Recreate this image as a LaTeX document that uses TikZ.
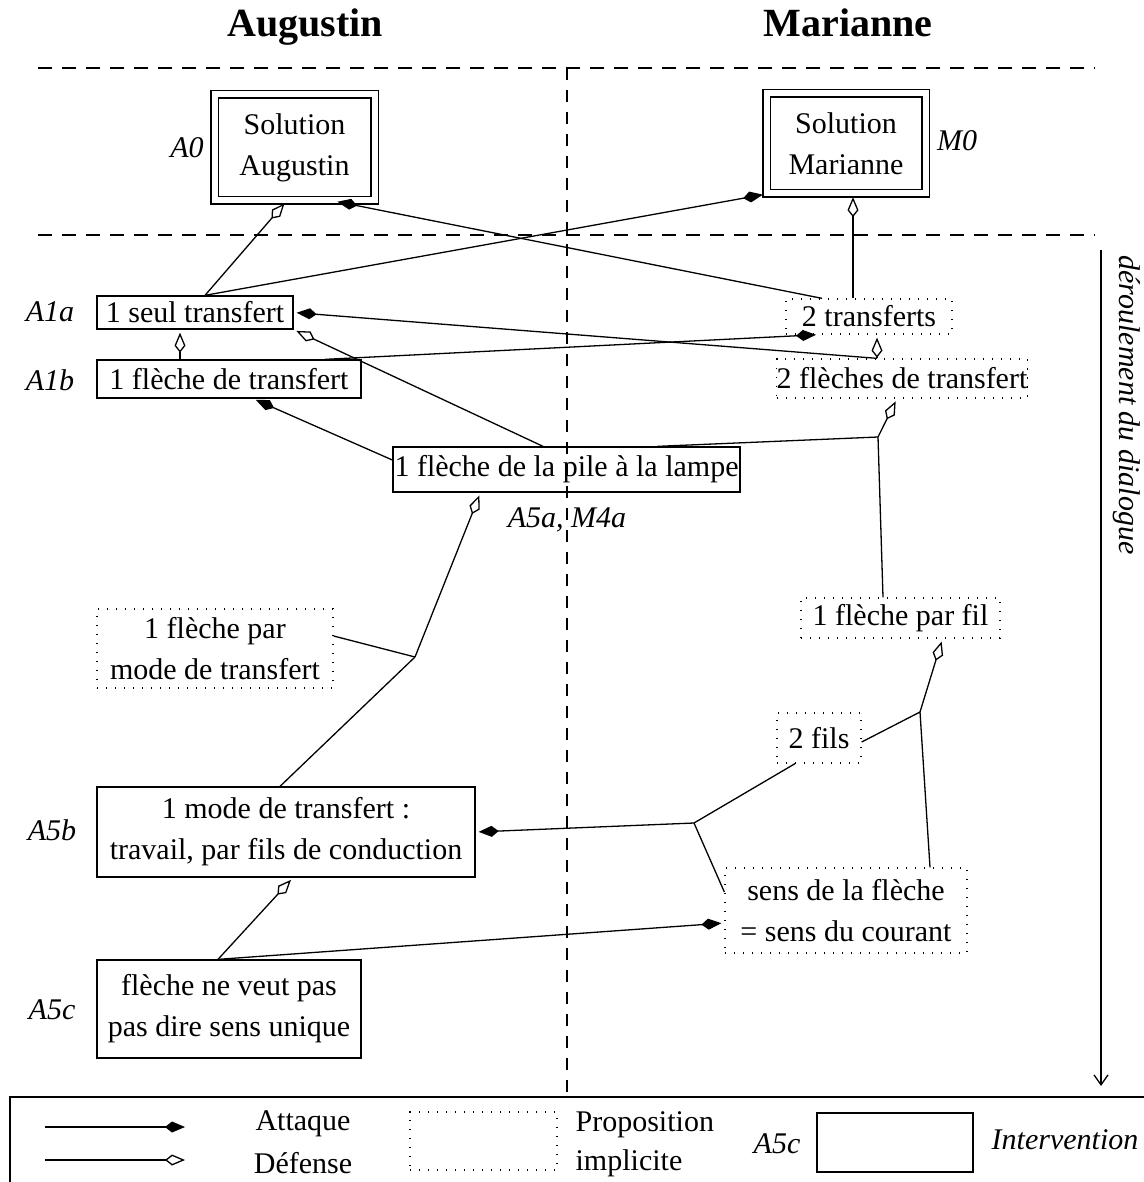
\documentclass[tikz,border=0pt]{standalone}
\usepackage{fontspec}
\setmainfont{Liberation Serif}
\usetikzlibrary{arrows.meta}

\tikzset{
    interv/.style={draw, rectangle, inner sep=0pt, align=center},
    implic/.style={draw, rectangle, inner sep=0pt, align=center, dash pattern=on 0.7pt off 3.8pt},
    solbox/.style={draw, double, double distance=3pt, rectangle, inner sep=0pt, align=center},
    lbl/.style={font=\fontsize{15}{18}\selectfont\itshape},
    head/.style={font=\fontsize{20}{24}\selectfont\bfseries, anchor=base},
    attaque/.style={-{Kite[length=10pt,width=5.5pt,inset=3.5pt]}, shorten >=1.5pt},
    defense/.style={-{Kite[open,length=10pt,width=5.5pt,inset=3.5pt]}, shorten >=1.5pt},
    sep/.style={dash pattern=on 7pt off 5pt}
}

\begin{document}
\begin{tikzpicture}[x=0.5pt, y=-0.5pt, line width=0.65pt, font=\fontsize{15}{20.5}\selectfont]
        \useasboundingbox (0,0) rectangle (1144,1182);

        \node[head] (hA) at (305,37) {Augustin};
        \node[head] (hM) at (848,37) {Marianne};

        \coordinate (s1) at (38,68);
        \coordinate (s2) at (1095,68);
        \coordinate (s3) at (38,235);
        \coordinate (s4) at (1095,235);
        \coordinate (s5) at (567,68);
        \coordinate (s6) at (567,1092);
        \draw[sep] (s1) -- (s2);
        \draw[sep] (s3) -- (s4);
        \draw[dash pattern=on 6pt off 5pt] (s5) -- (s6);

        \node[solbox, minimum width=80pt, minimum height=53pt] (A0) at (294.5,147.5) {Solution\\Augustin};
        \node[solbox, minimum width=79.5pt, minimum height=50pt] (M0) at (846,143.5) {Solution\\Marianne};
        \node[lbl] (lA0) at (187,148) {A0};
        \node[lbl] (lM0) at (957,141) {M0};

        \node[interv, minimum width=98pt, minimum height=16.5pt] (A1a) at (195,312.5) {1 seul transfert};
        \node[implic, minimum width=83pt, minimum height=17.5pt] (T2) at (869,316.5) {2 transferts};
        \node[interv, minimum width=132pt, minimum height=19pt] (A1b) at (229,379) {1 flèche de transfert};
        \node[implic, minimum width=122pt, minimum height=19.5pt] (F2) at (902,378.5) {2 flèches de transfert};
        \node[interv, minimum width=173.5pt, minimum height=22.5pt] (P) at (566.5,469.5) {1 flèche de la pile à la lampe};
        \node[implic, minimum width=99.5pt, minimum height=20pt] (FF) at (900.5,618) {1 flèche par fil};
        \node[implic, minimum width=118pt, minimum height=39.5pt] (MT) at (215,648.5) {1 flèche par\\mode de transfert};
        \node[implic, minimum width=42pt, minimum height=25pt] (FI) at (819,738) {2 fils};
        \node[interv, minimum width=189pt, minimum height=45pt] (A5b) at (286,832) {1 mode de transfert :\\travail, par fils de conduction};
        \node[implic, minimum width=121pt, minimum height=42.5pt] (SC) at (846,910.5) {sens de la flèche\\= sens du courant};
        \node[interv, minimum width=132pt, minimum height=49pt] (A5c) at (229,1009) {flèche ne veut pas\\pas dire sens unique};

        \node[lbl] (lA1a) at (50,312) {A1a};
        \node[lbl] (lA1b) at (50,380) {A1b};
        \node[lbl] (lP) at (567,520) {A5a, M4a};
        \node[lbl] (lA5b) at (52,830) {A5b};
        \node[lbl] (lA5c) at (52,1010) {A5c};

        \coordinate (J1) at (878,437);
        \coordinate (J2) at (415,657);
        \coordinate (J3) at (920,712);
        \coordinate (J4) at (694,823);

        \draw[defense] ([xshift=5pt]A1a.north) -- ([xshift=-4pt]A0.south);
        \draw[attaque] ([xshift=5pt]A1a.north) -- (M0.south west);
        \draw[attaque] ([xshift=-23.5pt]T2.north) -- ([xshift=20pt]A0.south);
        \draw[defense] ([xshift=-8pt]T2.north) -- ([xshift=-8pt]T2.north |- M0.south);
        \draw[attaque] ([xshift=-12.5pt]F2.north) -- (A1a.east);
        \draw[defense] ([xshift=-12.5pt]F2.north) -- ([xshift=-12.5pt]F2.north |- T2.south);
        \draw[defense] ([xshift=-24.5pt]A1b.north) -- ([xshift=-24.5pt]A1b.north |- A1a.south);
        \draw[attaque] ([xshift=48pt]A1b.north) -- ([xshift=-25pt]T2.south);
        \draw[attaque] ([yshift=4.75pt]P.west) -- ([xshift=12pt]A1b.south);
        \draw[defense] ([xshift=-11.75pt]P.north) -- (A1a.south east);
        \draw ([xshift=45.5pt]P.north) -- (J1);
        \draw ([xshift=-8.75pt]FF.north) -- (J1);
        \draw[defense] (J1) -- ([xshift=-2.5pt]F2.south);
        \draw ([yshift=6.25pt]MT.east) -- (J2);
        \draw ([xshift=-3pt]A5b.north) -- (J2);
        \draw[defense] (J2) -- ([xshift=-43pt]P.south);
        \draw ([yshift=-2pt]FI.east) -- (J3);
        \draw ([xshift=42pt]SC.north) -- (J3);
        \draw[defense] (J3) -- ([xshift=21pt]FF.south);
        \draw ([xshift=-12pt]FI.south) -- (J4);
        \draw ([yshift=9.25pt]SC.west) -- (J4);
        \draw[attaque] (J4) -- (A5b.east);
        \draw[defense] ([xshift=-5.5pt]A5c.north) -- ([xshift=3.5pt]A5b.south);
        \draw[attaque] ([xshift=-5.5pt]A5c.north) -- ([yshift=-6.25pt]SC.west);

        \coordinate (t1) at (1101,250);
        \coordinate (t2) at (1101,1086);
        \draw[-{Straight Barb[length=5pt,width=7pt]}] (t1) -- (t2);
        \node[lbl, rotate=-90] (tl) at (1127,405) {déroulement du dialogue};

        \draw (10,1195) -- (10,1097) -- (1160,1097);
        \coordinate (la1) at (45,1127);
        \coordinate (la2) at (185,1127);
        \coordinate (ld1) at (45,1160);
        \coordinate (ld2) at (185,1160);
        \draw[attaque, shorten >=0pt] (la1) -- (la2);
        \draw[defense, shorten >=0pt] (ld1) -- (ld2);
        \node (tA) at (303,1124) {Attaque};
        \node (tD) at (303,1163) {Défense};
        \node[implic, minimum width=73.5pt, minimum height=29pt] (lgI) at (483.5,1141) {};
        \node[align=left, anchor=west, inner sep=0pt, font=\fontsize{15}{19.5}\selectfont] (tI) at (575,1144) {Proposition\\implicite};
        \node[lbl] (lgA) at (777,1144) {A5c};
        \node[interv, minimum width=78pt, minimum height=29.5pt] (lgB) at (895,1142.5) {};
        \node[lbl] (tInt) at (1065,1140) {Intervention};

    \end{tikzpicture}
\end{document}
